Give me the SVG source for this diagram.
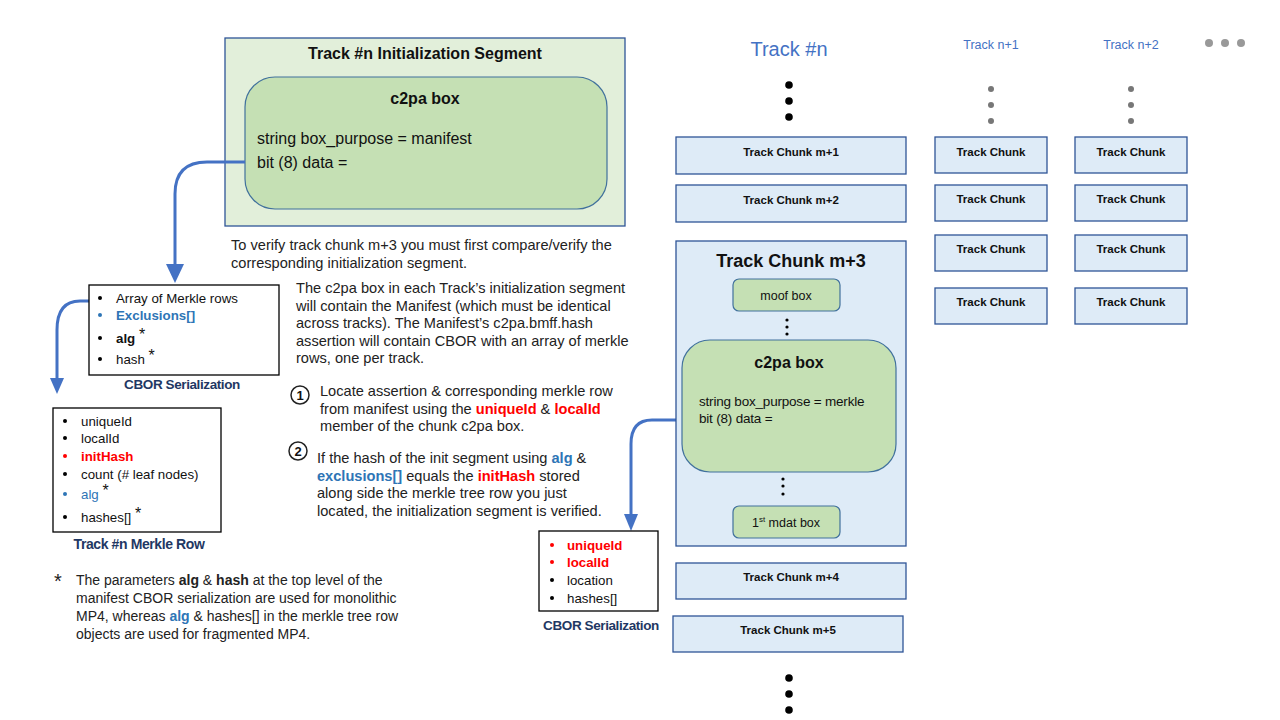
<svg xmlns="http://www.w3.org/2000/svg" width="1280" height="720" viewBox="0 0 1280 720">
<style>
text{font-family:"Liberation Sans",Arial,sans-serif;fill:#111}
.b{font-weight:bold}
.chunk{fill:#deebf7;stroke:#2f5597;stroke-width:1.3}
.gbox{fill:#c5e0b4;stroke:#41719c;stroke-width:1.2}
.cbor{fill:#fff;stroke:#000;stroke-width:1.3}
.ct{font-size:11.5px;font-weight:bold;text-anchor:middle}
.li{font-size:13.3px}
.lbl{font-size:13.5px;font-weight:bold;fill:#1f3864;text-anchor:middle;letter-spacing:-0.4px}
.body{font-size:14.6px;fill:#222}
.foot{font-size:14px;fill:#222}
.blue{fill:#2e75b6;font-weight:bold}
.red{fill:#ff0000;font-weight:bold}
.hdr{fill:#4472c4;text-anchor:middle}
.conn{fill:none;stroke:#4472c4;stroke-width:3}
</style>
<rect width="1280" height="720" fill="#fff"/>

<g id="init-segment">
<rect x="225" y="38" width="400" height="188" fill="#e2efda" stroke="#2f5597" stroke-width="1.3"/>
<text x="425" y="59" class="b" font-size="16" text-anchor="middle">Track #n Initialization Segment</text>
</g>
<g id="init-c2pa">
<rect x="245" y="77" width="362" height="132" rx="30" class="gbox"/>
<text x="425" y="104" class="b" font-size="16" text-anchor="middle">c2pa box</text>
<text x="257" y="144" font-size="16">string box_purpose = manifest</text>
<text x="257" y="168" font-size="16">bit (8) data =</text>
</g>

<g id="connectors">
<path class="conn" d="M245,162 H207 Q175,162 175,194 V266"/>
<polygon points="166,264 184,264 175,283" fill="#4472c4"/>
<path class="conn" d="M95,301 H80 Q57,301 57,330 V380" stroke-width="2.2"/>
<polygon points="50,378 64,378 57,394" fill="#4472c4"/>
<path class="conn" d="M682,420 H652 Q631,420 631,444 V516" stroke-width="2.2"/>
<polygon points="624,514 638,514 631,531" fill="#4472c4"/>
</g>

<g id="cbor-top">
<rect x="89" y="285" width="190" height="90" class="cbor"/>
<circle cx="100" cy="298" r="2"/>
<text x="116" y="303" class="li">Array of Merkle rows</text>
<circle cx="100" cy="315" r="2" fill="#2e75b6"/>
<text x="116" y="320" class="li blue">Exclusions[]</text>
<circle cx="100" cy="338" r="2"/>
<text x="116" y="343" class="li b">alg <tspan style="font-weight:normal;font-size:16px" dy="-3">*</tspan></text>
<circle cx="100" cy="359" r="2"/>
<text x="116" y="364" class="li">hash <tspan style="font-size:16px" dy="-3">*</tspan></text>
<text x="182" y="389" class="lbl">CBOR Serialization</text>
</g>

<g id="merkle-row">
<rect x="53" y="408" width="168" height="124" class="cbor"/>
<circle cx="65" cy="421" r="2"/>
<text x="81" y="426" class="li">uniqueId</text>
<circle cx="65" cy="438" r="2"/>
<text x="81" y="443" class="li">localId</text>
<circle cx="65" cy="456" r="2" fill="#ff0000"/>
<text x="81" y="461" class="li red">initHash</text>
<circle cx="65" cy="474" r="2"/>
<text x="81" y="479" class="li">count (# leaf nodes)</text>
<circle cx="65" cy="494" r="2" fill="#2e75b6"/>
<text x="81" y="499" class="li" style="fill:#2e75b6">alg <tspan dy="-3" style="fill:#111;font-size:16px">*</tspan></text>
<circle cx="65" cy="517" r="2"/>
<text x="81" y="522" class="li">hashes[] <tspan style="font-size:16px" dy="-3">*</tspan></text>
<text x="139" y="549" class="lbl" style="font-size:14px">Track #n Merkle Row</text>
</g>

<g id="explanation">
<text x="231" y="250" class="body">To verify track chunk m+3 you must first compare/verify the</text>
<text x="231" y="268" class="body">corresponding initialization  segment.</text>
<text x="296" y="293" class="body">The c2pa box in each Track’s initialization  segment</text>
<text x="296" y="311" class="body">will contain the Manifest  (which must be identical</text>
<text x="296" y="328" class="body">across tracks). The Manifest’s  c2pa.bmff.hash</text>
<text x="296" y="346" class="body">assertion will contain CBOR with an array of merkle</text>
<text x="296" y="363" class="body">rows, one per track.</text>
</g>

<g id="step1">
<circle cx="300" cy="395" r="9" fill="#fff" stroke="#222" stroke-width="1.5"/>
<text x="300" y="400" class="b" font-size="13" text-anchor="middle">1</text>
<text x="320" y="396" class="body">Locate assertion &amp; corresponding merkle row</text>
<text x="320" y="414" class="body">from manifest using the <tspan class="red">uniqueId</tspan> &amp; <tspan class="red">localId</tspan></text>
<text x="320" y="431" class="body">member of the chunk c2pa box.</text>
</g>

<g id="step2">
<circle cx="298" cy="451" r="9" fill="#fff" stroke="#222" stroke-width="1.5"/>
<text x="298" y="456" class="b" font-size="13" text-anchor="middle">2</text>
<text x="317" y="463" class="body">If the hash of the init segment using <tspan class="blue">alg</tspan> &amp;</text>
<text x="317" y="481" class="body"><tspan class="blue">exclusions[]</tspan> equals the <tspan class="red">initHash</tspan> stored</text>
<text x="317" y="498" class="body">along side the merkle tree row you just</text>
<text x="317" y="516" class="body">located, the initialization  segment is verified.</text>
</g>

<g id="footnote">
<text x="54" y="588" class="foot" style="font-size:20px">*</text>
<text x="76" y="585" class="foot">The parameters <tspan class="b">alg</tspan> &amp; <tspan class="b">hash</tspan> at the top level of the</text>
<text x="76" y="603" class="foot">manifest CBOR serialization are used for monolithic</text>
<text x="76" y="621" class="foot">MP4, whereas <tspan class="blue">alg</tspan> &amp; hashes[] in the merkle tree row</text>
<text x="76" y="639" class="foot">objects are used for fragmented MP4.</text>
</g>

<g id="track-headers">
<text x="789" y="56" class="hdr" font-size="20">Track #n</text>
<text x="991" y="49" class="hdr" font-size="12.5">Track n+1</text>
<text x="1131" y="49" class="hdr" font-size="12.5">Track n+2</text>
<circle cx="1209" cy="43" r="4" fill="#999"/>
<circle cx="1225" cy="43" r="4" fill="#999"/>
<circle cx="1241" cy="43" r="4" fill="#999"/>
<circle cx="789" cy="85" r="3.8" fill="#000"/>
<circle cx="789" cy="101" r="3.8" fill="#000"/>
<circle cx="789" cy="117" r="3.8" fill="#000"/>
<circle cx="991" cy="89" r="3" fill="#777"/>
<circle cx="991" cy="105" r="3" fill="#777"/>
<circle cx="991" cy="121" r="3" fill="#777"/>
<circle cx="1131" cy="89" r="3" fill="#777"/>
<circle cx="1131" cy="105" r="3" fill="#777"/>
<circle cx="1131" cy="121" r="3" fill="#777"/>
<circle cx="789" cy="678" r="3.8" fill="#000"/>
<circle cx="789" cy="694" r="3.8" fill="#000"/>
<circle cx="789" cy="710" r="3.8" fill="#000"/>
</g>

<g id="chunk-m1"><rect x="676" y="137" width="230" height="37" class="chunk"/><text x="791" y="156" class="ct">Track Chunk m+1</text></g>
<g id="chunk-m2"><rect x="676" y="185" width="230" height="37" class="chunk"/><text x="791" y="204" class="ct">Track Chunk m+2</text></g>

<g id="chunk-m3">
<rect x="676" y="241" width="230" height="305" class="chunk"/>
<text x="791" y="267" class="b" font-size="18" text-anchor="middle">Track Chunk m+3</text>
<rect x="733" y="279" width="107" height="32" rx="6" class="gbox"/>
<text x="786" y="300" font-size="12.5" text-anchor="middle">moof box</text>
<circle cx="787" cy="320" r="1.6" fill="#000"/>
<circle cx="787" cy="327" r="1.6" fill="#000"/>
<circle cx="787" cy="334" r="1.6" fill="#000"/>
<rect x="682" y="340" width="214" height="132" rx="28" class="gbox"/>
<text x="789" y="368" class="b" font-size="16" text-anchor="middle">c2pa box</text>
<text x="699" y="406" font-size="13.5" letter-spacing="-0.2">string box_purpose = merkle</text>
<text x="699" y="423" font-size="13.5" letter-spacing="-0.2">bit (8) data =</text>
<circle cx="783" cy="479" r="1.6" fill="#000"/>
<circle cx="783" cy="486" r="1.6" fill="#000"/>
<circle cx="783" cy="494" r="1.6" fill="#000"/>
<rect x="733" y="506" width="107" height="32" rx="6" class="gbox"/>
<text x="786" y="527" font-size="12.5" text-anchor="middle">1<tspan font-size="8" dy="-5">st</tspan><tspan dy="5"> mdat box</tspan></text>
</g>

<g id="cbor-chunk">
<rect x="539" y="531" width="119" height="80" class="cbor"/>
<circle cx="552" cy="545" r="2" fill="#ff0000"/>
<text x="567" y="550" class="li red">uniqueId</text>
<circle cx="552" cy="562" r="2" fill="#ff0000"/>
<text x="567" y="567" class="li red">localId</text>
<circle cx="552" cy="580" r="2"/>
<text x="567" y="585" class="li">location</text>
<circle cx="552" cy="598" r="2"/>
<text x="567" y="603" class="li">hashes[]</text>
<text x="601" y="630" class="lbl">CBOR Serialization</text>
</g>

<g id="chunk-m4"><rect x="676" y="563" width="230" height="36" class="chunk"/><text x="791" y="581" class="ct">Track Chunk m+4</text></g>
<g id="chunk-m5"><rect x="673" y="616" width="230" height="36" class="chunk"/><text x="788" y="634" class="ct">Track Chunk m+5</text></g>

<g id="n1-c1"><rect x="935" y="137" width="112" height="36" class="chunk"/><text x="991" y="156" class="ct">Track Chunk</text></g>
<g id="n1-c2"><rect x="935" y="185" width="112" height="36" class="chunk"/><text x="991" y="203" class="ct">Track Chunk</text></g>
<g id="n1-c3"><rect x="935" y="235" width="112" height="36" class="chunk"/><text x="991" y="253" class="ct">Track Chunk</text></g>
<g id="n1-c4"><rect x="935" y="288" width="112" height="36" class="chunk"/><text x="991" y="306" class="ct">Track Chunk</text></g>
<g id="n2-c1"><rect x="1075" y="137" width="112" height="36" class="chunk"/><text x="1131" y="156" class="ct">Track Chunk</text></g>
<g id="n2-c2"><rect x="1075" y="185" width="112" height="36" class="chunk"/><text x="1131" y="203" class="ct">Track Chunk</text></g>
<g id="n2-c3"><rect x="1075" y="235" width="112" height="36" class="chunk"/><text x="1131" y="253" class="ct">Track Chunk</text></g>
<g id="n2-c4"><rect x="1075" y="288" width="112" height="36" class="chunk"/><text x="1131" y="306" class="ct">Track Chunk</text></g>
</svg>
